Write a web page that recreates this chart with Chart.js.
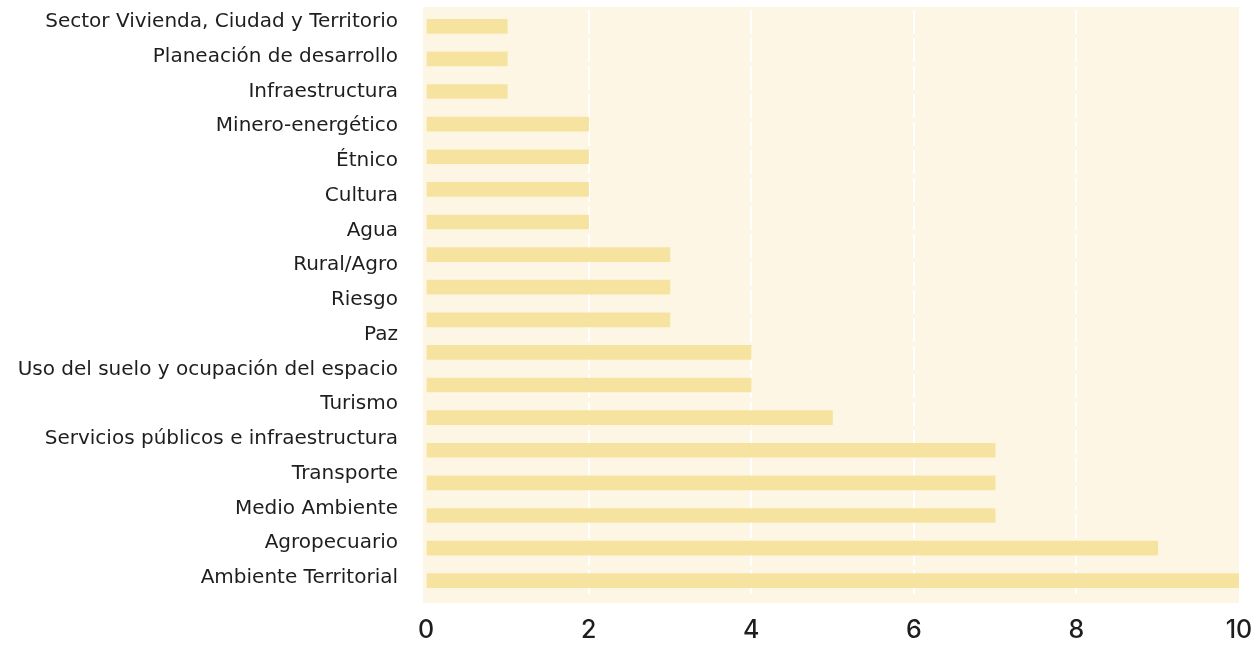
<!DOCTYPE html>
<html>
<head>
<meta charset="utf-8">
<script src="https://cdn.jsdelivr.net/npm/chart.js@4"></script>
<style>
  body { margin: 0; background: #ffffff; }
  canvas { display: block; }
</style>
</head>
<body>
<canvas id="sectoresChart" width="1257" height="645"></canvas>
<script>
const categorias = [
    "Sector Vivienda, Ciudad y Territorio",
    "Planeación de desarrollo",
    "Infraestructura",
    "Minero-energético",
    "Étnico",
    "Cultura",
    "Agua",
    "Rural/Agro",
    "Riesgo",
    "Paz",
    "Uso del suelo y ocupación del espacio",
    "Turismo",
    "Servicios públicos e infraestructura",
    "Transporte",
    "Medio Ambiente",
    "Agropecuario",
    "Ambiente Territorial",
];

// 18 barras en la imagen, 17 etiquetas
const valores = [1, 1, 1, 2, 2, 2, 2, 3, 3, 3, 4, 4, 5, 7, 7, 7, 9, 10];
const ticksX = [0, 2, 4, 6, 8, 10];

const fondoArea = {
    id: "fondoArea",
    beforeDraw(chart) {
        const { ctx, chartArea } = chart;
        ctx.save();
        ctx.fillStyle = "rgb(253, 246, 228)";
        ctx.fillRect(chartArea.left - 3, chartArea.top - 3, chartArea.width + 3, chartArea.height + 9);
        ctx.restore();
    },
};

new Chart(document.getElementById("sectoresChart"), {
    type: "bar",
    data: {
        labels: valores.map((v, i) => String(i + 1)),
        datasets: [
            {
                label: "Sectores",
                data: valores,
                backgroundColor: "rgb(247, 227, 160)",
                borderWidth: 0,
                barThickness: 14,
            },
        ],
    },
    options: {
        indexAxis: "y",
        responsive: false,
        animation: false,
        layout: { padding: { top: 10, right: 18, left: 0, bottom: 0 } },
        plugins: {
            legend: { display: false },
            tooltip: { enabled: false },
        },
        scales: {
            x: {
                min: 0,
                max: 10,
                grid: {
                    color: (c) => (c.tick.value === 0 || c.tick.value === 10 ? "rgba(0,0,0,0)" : "#ffffff"),
                    lineWidth: 2,
                    drawTicks: false,
                },
                border: { display: false, dash: [24, 4] },
                afterBuildTicks: (scale) => {
                    scale.ticks = ticksX.map((v) => ({ value: v }));
                },
                afterFit: (scale) => {
                    scale.height = 48;
                    scale.paddingLeft = 0;
                    scale.paddingRight = 0;
                },
                ticks: {
                    color: "#1e1e1e",
                    padding: 18,
                    font: { family: "Inter", size: 25, weight: "500" },
                },
            },
            y: {
                display: false,
            },
            yEtiquetas: {
                type: "linear",
                position: "left",
                reverse: true,
                offset: false,
                bounds: "data",
                min: -0.345,
                max: 16.55,
                grid: { display: false, offset: false },
                border: { display: false },
                afterBuildTicks: (scale) => {
                    scale.ticks = categorias.map((c, i) => ({ value: i }));
                    scale.min = -0.345;
                    scale.max = 16.55;
                },
                afterFit: (scale) => {
                    scale.width = 426;
                    scale.paddingTop = 0;
                    scale.paddingBottom = 0;
                },
                ticks: {
                    color: "#1e1e1e",
                    padding: 20,
                    autoSkip: false,
                    callback: (v) => categorias[v],
                    font: { family: "DejaVu Sans", size: 20 },
                },
            },
        },
    },
    plugins: [fondoArea],
});
</script>
</body>
</html>
